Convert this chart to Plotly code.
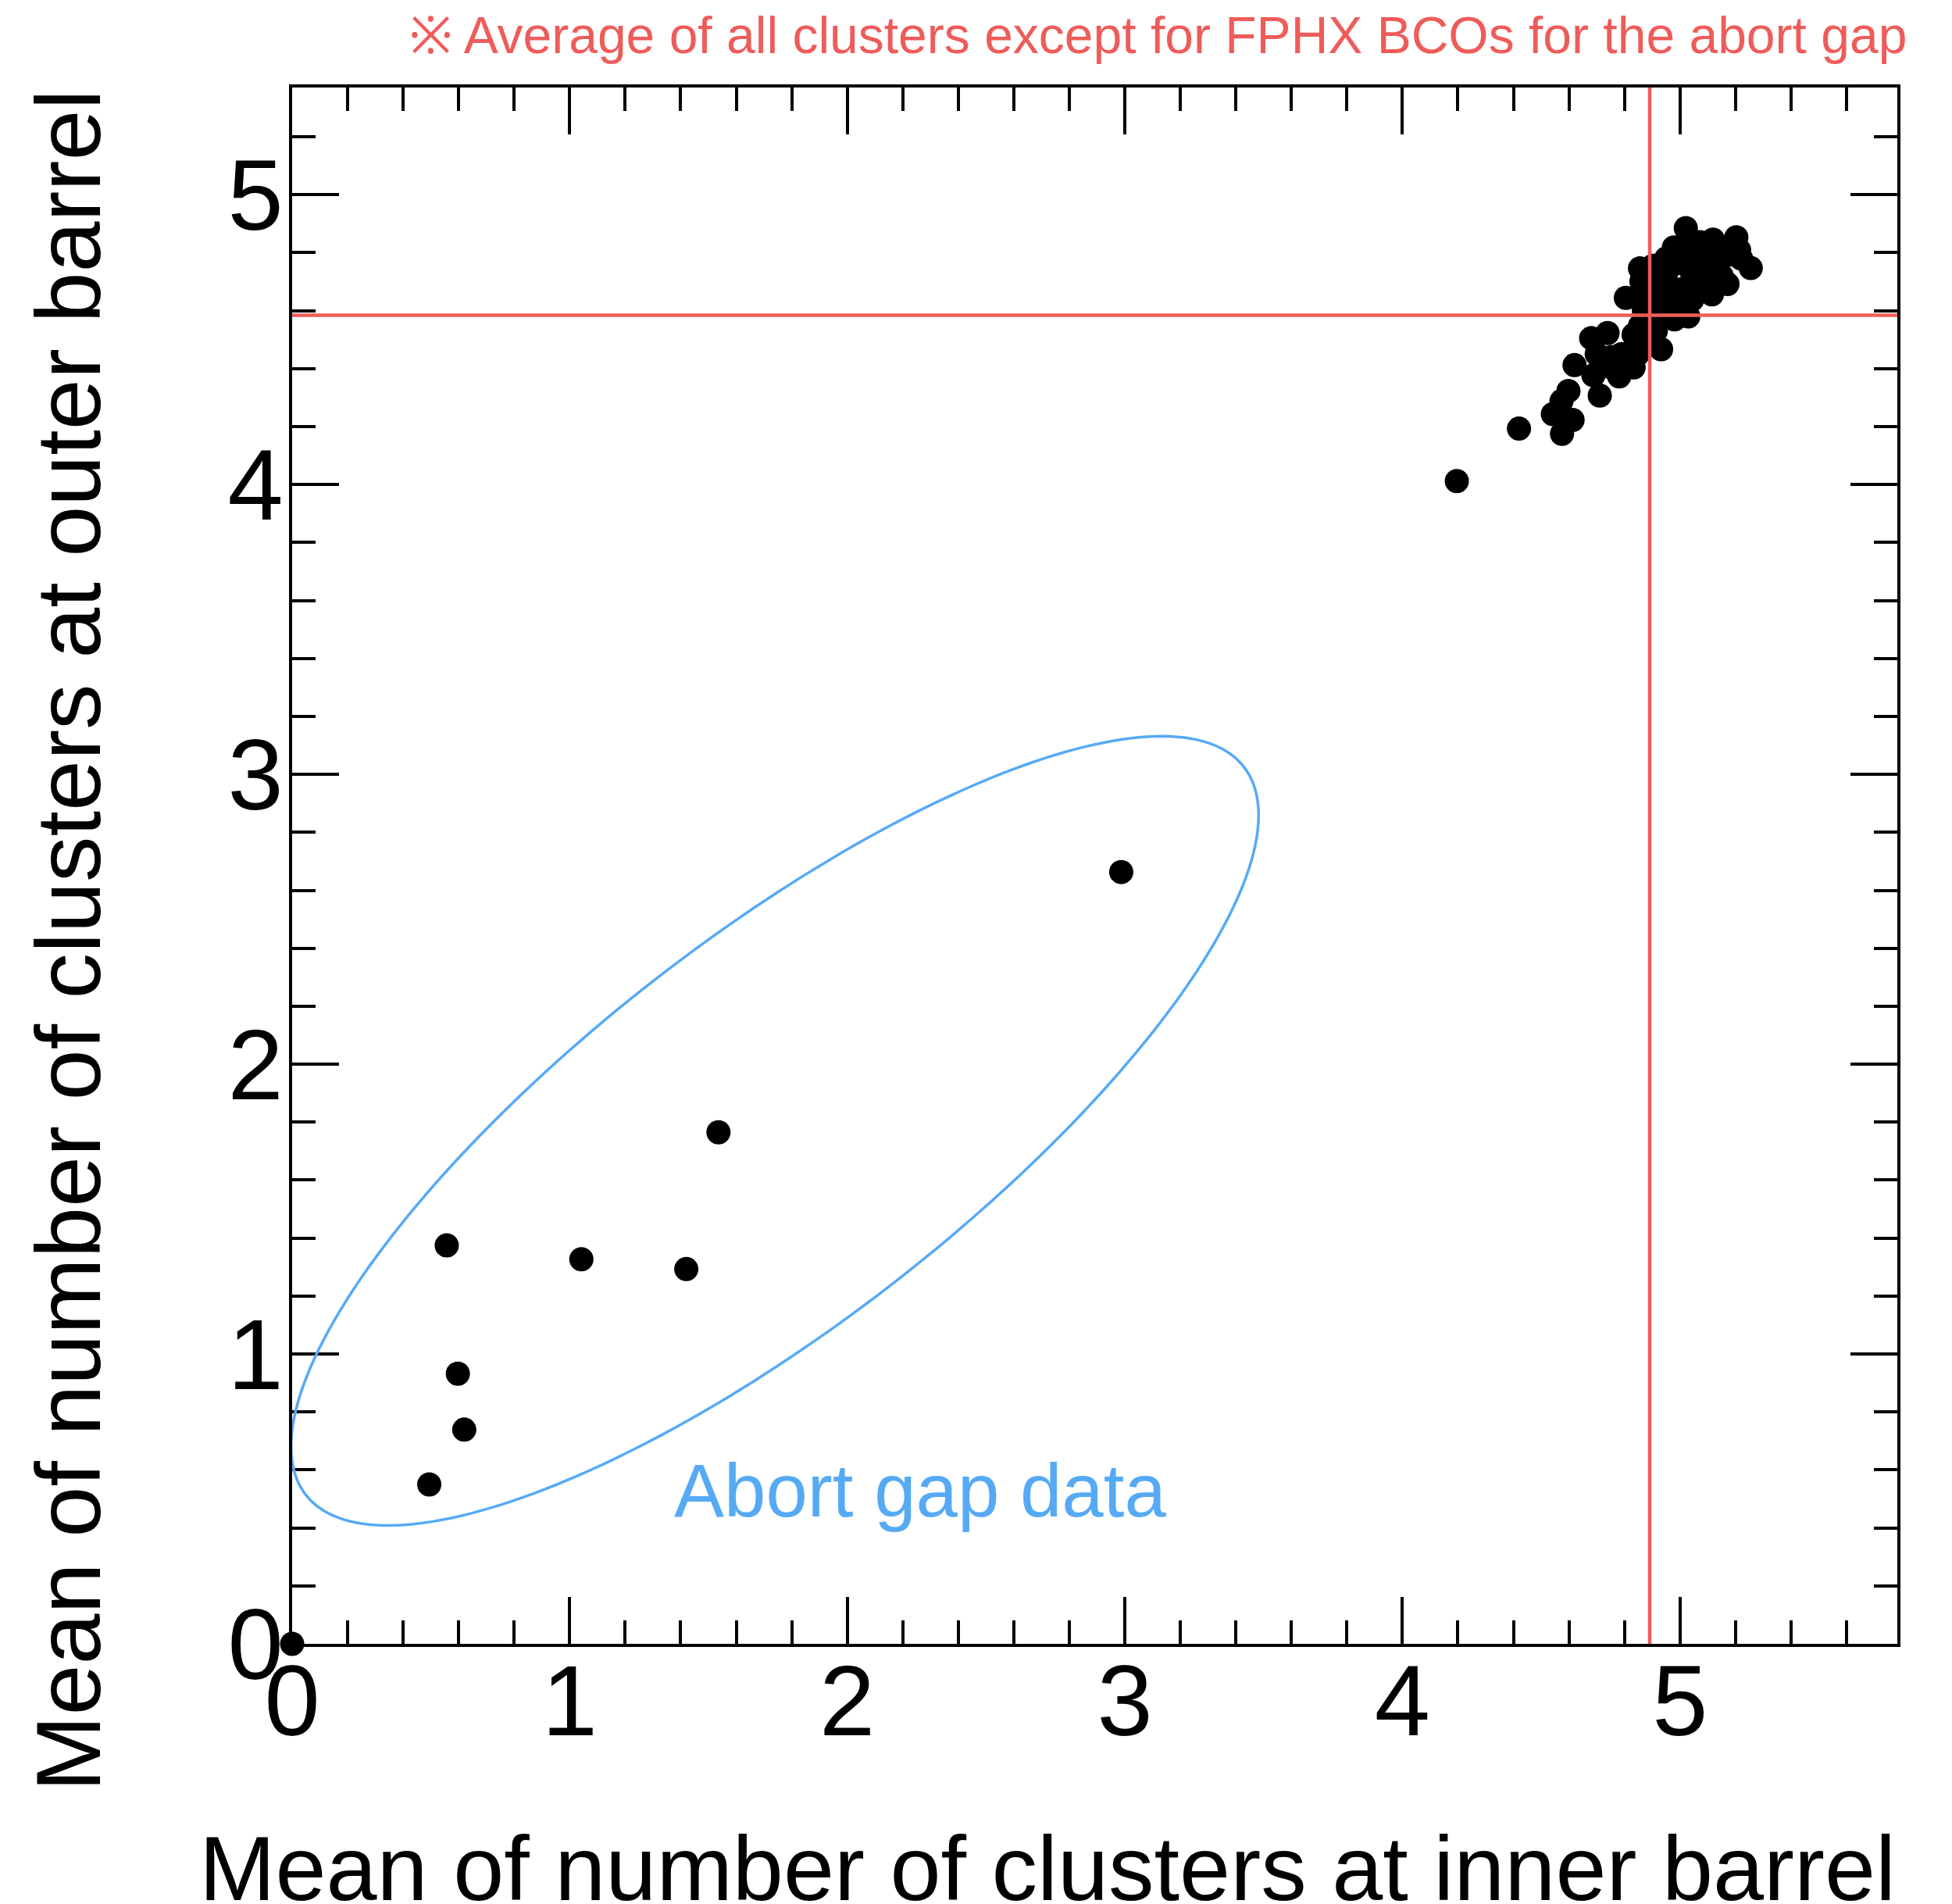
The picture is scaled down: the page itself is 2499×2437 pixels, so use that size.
import numpy as np
import plotly.graph_objects as go

# Mean cluster multiplicity per FPHX BCO: inner vs. outer barrel
inner_mean = [
    0.00, 0.494, 0.557, 0.597, 0.620, 1.042, 1.420, 1.536, 2.987,
    4.196, 4.420,
    4.575, 4.613, 4.542, 4.573, 4.598, 4.711, 4.620, 4.688, 4.680, 4.739,
    4.753, 4.781, 4.833, 4.847, 4.833, 4.856, 4.932, 4.913, 4.805, 4.856,
    4.903, 4.861, 4.894, 4.978, 5.021, 5.030, 5.203, 5.213, 5.255, 5.171,
    5.115, 5.119, 5.072, 4.950, 4.997, 5.044, 5.091, 5.138, 4.950, 5.006,
    5.044, 4.988, 5.091, 4.932, 5.006, 5.166, 4.903,
    4.900, 4.950, 5.050, 5.100, 5.150, 5.100, 5.000, 4.960, 5.060, 4.880,
    5.180, 5.220, 4.920, 4.980, 4.870,
    4.720, 4.790, 4.800, 4.760, 4.700, 4.860, 4.880,
]
outer_mean = [
    0.00, 0.550, 1.375, 0.932, 0.739, 1.327, 1.293, 1.765, 2.663,
    4.012, 4.193,
    4.175, 4.223, 4.243, 4.288, 4.323, 4.307, 4.412, 4.377, 4.505, 4.523,
    4.440, 4.373, 4.404, 4.449, 4.517, 4.548, 4.467, 4.530, 4.644, 4.746,
    4.755, 4.701, 4.629, 4.818, 4.885, 4.580, 4.853, 4.809, 4.747, 4.692,
    4.656, 4.845, 4.836, 4.728, 4.764, 4.728, 4.764, 4.773, 4.656, 4.674,
    4.638, 4.611, 4.710, 4.602, 4.818, 4.791, 4.566,
    4.700, 4.780, 4.780, 4.800, 4.720, 4.680, 4.620, 4.660, 4.700, 4.660,
    4.800, 4.780, 4.560, 4.570, 4.600,
    4.420, 4.450, 4.410, 4.400, 4.450, 4.500, 4.530,
]

# Averages over all clusters, excluding the abort-gap BCOs
avg_inner = 4.891
avg_outer = 4.584

x_range = [0, 5.783]
y_range = [0, 5.370]

note_text = "※ Average of all clusters except for FPHX BCOs for the abort gap"
abort_label = "Abort gap data"
x_title = "Mean of number of clusters at inner barrel"
y_title = "Mean of number of clusters at outer barrel"

# Figure geometry
W, H = 2499, 2437
M = dict(l=374, r=70, t=112, b=333)
plot_w = W - M["l"] - M["r"]
plot_h = H - M["t"] - M["b"]
px_per_x = plot_w / (x_range[1] - x_range[0])
px_per_y = plot_h / (y_range[1] - y_range[0])

RED = "#ee5c5a"
BLUE = "#56aaf5"
FONT = "Liberation Sans, Arial, Helvetica, sans-serif"

# Tilted ellipse outlining the abort-gap points (axes given in screen pixels)
ell_cx, ell_cy = 1.739, 1.770
ell_a, ell_b, ell_deg = 760, 247, 37.8
t = np.linspace(0, 2 * np.pi, 240)
th = np.deg2rad(ell_deg)
dx = ell_a * np.cos(t) * np.cos(th) - ell_b * np.sin(t) * np.sin(th)
dy = ell_a * np.cos(t) * np.sin(th) + ell_b * np.sin(t) * np.cos(th)
ex = ell_cx + dx / px_per_x
ey = ell_cy + dy / px_per_y
ell_path = "M " + " L ".join(f"{a:.4f},{b:.4f}" for a, b in zip(ex, ey)) + " Z"

fig = go.Figure()
fig.add_trace(go.Scatter(
    x=inner_mean, y=outer_mean, mode="markers",
    marker=dict(size=31, color="black", line=dict(width=0)),
    cliponaxis=False, showlegend=False,
))

axis_common = dict(
    showgrid=False, zeroline=False,
    showline=True, linecolor="black", linewidth=3.5, mirror="allticks",
    ticks="inside", ticklen=60, tickwidth=3.5, tickcolor="black",
    dtick=1, tick0=0,
    tickfont=dict(family=FONT, size=128, color="black"),
    minor=dict(ticks="inside", ticklen=30, tickwidth=3.5, tickcolor="black", dtick=0.2),
)

fig.update_layout(
    width=W, height=H, margin=M,
    paper_bgcolor="white", plot_bgcolor="white",
    xaxis=dict(range=x_range, ticklabelstandoff=-40, **axis_common),
    yaxis=dict(range=y_range, ticklabelstandoff=-18, **axis_common),
    shapes=[
        dict(type="line", xref="x", yref="y", x0=avg_inner, x1=avg_inner,
             y0=y_range[0], y1=y_range[1], line=dict(color=RED, width=4.5)),
        dict(type="line", xref="x", yref="y", x0=x_range[0], x1=x_range[1],
             y0=avg_outer, y1=avg_outer, line=dict(color=RED, width=4.5)),
        dict(type="path", xref="x", yref="y", path=ell_path,
             line=dict(color=BLUE, width=3.5)),
    ],
    annotations=[
        dict(text=note_text, xref="paper", yref="paper", x=1.0068, y=1.0336,
             xanchor="right", yanchor="middle", showarrow=False,
             font=dict(family=FONT, size=66, color=RED)),
        dict(text=abort_label, xref="x", yref="y", x=1.37, y=0.53,
             xanchor="left", yanchor="middle", showarrow=False,
             font=dict(family=FONT, size=96, color=BLUE)),
        dict(text=x_title, xref="paper", yref="paper", x=1.0, y=-0.1441,
             xanchor="right", yanchor="middle", showarrow=False,
             font=dict(family=FONT, size=117, color="black")),
        dict(text=y_title, xref="paper", yref="paper", x=-0.1394, y=1.0,
             xanchor="center", yanchor="top", textangle=-90, showarrow=False,
             font=dict(family=FONT, size=117, color="black")),
    ],
)

fig.write_html("out.html")
